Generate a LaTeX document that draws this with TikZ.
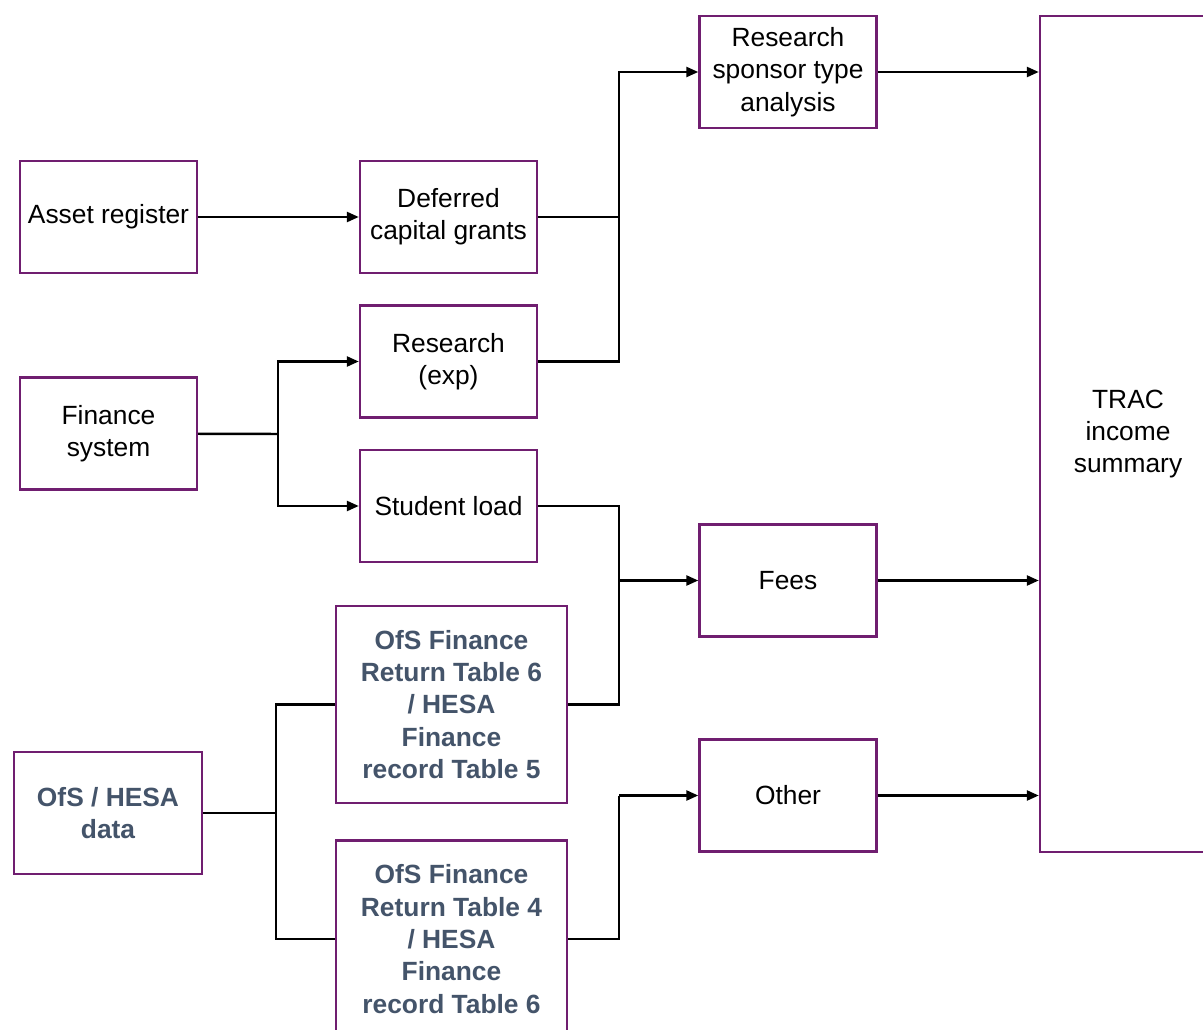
\documentclass[tikz,border=0pt]{standalone}
\usepackage{fontspec}
\setmainfont{Liberation Sans}
\definecolor{boxpurple}{RGB}{112, 30, 112}
\definecolor{ofsslate}{RGB}{68, 84, 106}
\usepackage{tikz}
\usetikzlibrary{arrows.meta, positioning, calc}

\begin{document}
\begin{tikzpicture}[x=0.02cm, y=-0.02cm,
    srcbox/.style={draw=boxpurple, line width=1.4pt, fill=white, align=center, inner sep=0pt,
      minimum width=3.54cm, minimum height=2.24cm, font=\fontsize{15pt}{18.4pt}\selectfont},
    ofsbox/.style={srcbox, minimum width=4.62cm, minimum height=3.94cm,
      font=\fontsize{15pt}{18.4pt}\selectfont\bfseries, text=ofsslate},
    link/.style={line width=1.4pt},
    arr/.style={link, -{Triangle[length=2.4mm, width=2mm]}}]
  \useasboundingbox (0,0) rectangle (1203,1030);
  \clip (0,0) rectangle (1203,1030);

  % Sources
  \node[srcbox] (asset) at (108.5, 217) {Asset register};
  \node[srcbox] (finsys) at (108.5, 433.5) {Finance\\system};
  \node[ofsbox, minimum width=3.76cm, minimum height=2.44cm] (ofsdata) at (108, 813) {OfS / HESA\\data};

  % Middle column
  \node[srcbox] (defcap) at (448.5, 217) {Deferred\\capital grants};
  \node[srcbox] (resexp) at (448.5, 361.5) {Research\\(exp)};
  \node[srcbox] (studload) at (448.5, 506) {Student load};
  \node[ofsbox] (ofstabsix) at (451.5, 704.5) {OfS Finance\\Return Table 6\\/ HESA\\Finance\\record Table 5};
  \node[ofsbox] (ofstabfour) at (451.5, 939) {OfS Finance\\Return Table 4\\/ HESA\\Finance\\record Table 6};

  % Analysis column
  \node[srcbox] (sponsor) at (788, 72) {Research\\sponsor type\\analysis};
  \node[srcbox] (fees) at (788, 580.5) {Fees};
  \node[srcbox] (other) at (788, 795.5) {Other};

  % Summary
  \node[srcbox, minimum width=3.52cm, minimum height=16.72cm] (trac) at (1128, 434) {TRAC\\income\\summary};

  % Junctions
  \coordinate (finjoin) at (278, 434);
  \coordinate (resjoin) at (619, 217);
  \coordinate (feejoin) at (619, 580.5);
  \coordinate (ofsjoin) at (276, 813);
  \coordinate (othjoin) at (619, 795.5);

  % Connectors
  \draw[arr] (asset) -- (defcap);
  \draw[link] (finsys) -- (finjoin);
  \draw[arr] (finjoin) |- (resexp);
  \draw[arr] (finjoin) |- (studload);

  \draw[link] (defcap) -- (resjoin);
  \draw[link] (resexp) -| (resjoin);
  \draw[arr] (resjoin) |- (sponsor);

  \draw[link] (studload) -| (feejoin);
  \draw[link] (ofstabsix) -| (feejoin);
  \draw[arr] (feejoin) -- (fees);

  \draw[link] (ofsdata) -- (ofsjoin);
  \draw[link] (ofsjoin) |- (ofstabsix);
  \draw[link] (ofsjoin) |- (ofstabfour);

  \draw[link] (ofstabfour) -| (othjoin);
  \draw[arr] (othjoin) -- (other);

  \draw[arr] (sponsor.east) -- (sponsor.east -| trac.west);
  \draw[arr] (fees.east) -- (fees.east -| trac.west);
  \draw[arr] (other.east) -- (other.east -| trac.west);
\end{tikzpicture}
\end{document}
